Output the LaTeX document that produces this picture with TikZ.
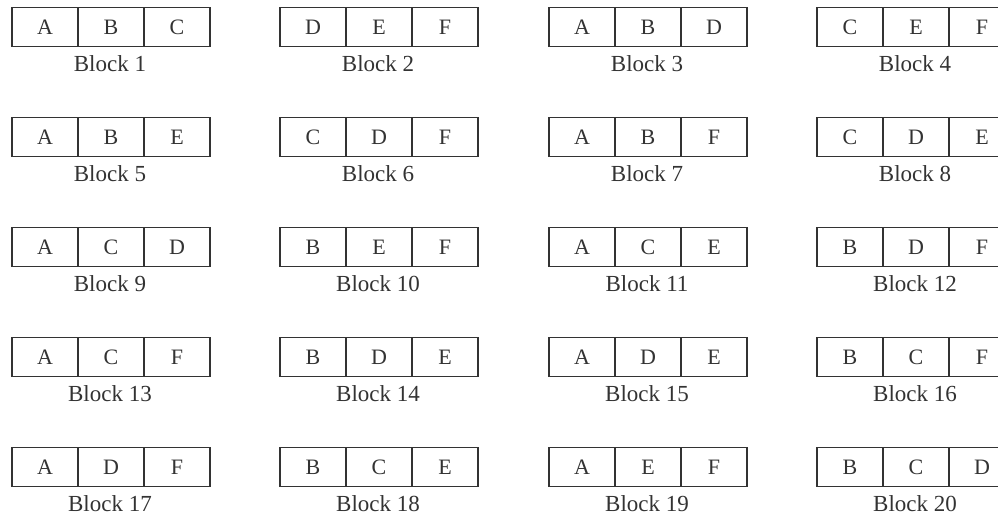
\documentclass[tikz,border=0pt]{standalone}
\usepackage{fontspec}
\setmainfont{Liberation Serif}
\definecolor{ink}{HTML}{333333}
\tikzset{
  cell/.style={draw=ink, line width=1.1pt, minimum width=66pt, minimum height=39pt, inner sep=0pt, text=ink, font=\fontsize{22}{24}\selectfont},
  blocklabel/.style={anchor=base, inner sep=0pt, text depth=0pt, text=ink, font=\fontsize{23}{25}\selectfont}
}
\begin{document}
\begin{tikzpicture}[x=1pt, y=-1pt]
\useasboundingbox (0,0) rectangle (998,515);
\clip (0,0) rectangle (998,515);
\fill[white] (0,0) rectangle (998,515);
\foreach \a/\b/\c [count=\n] in {A/B/C, D/E/F, A/B/D, C/E/F, A/B/E, C/D/F, A/B/F, C/D/E, A/C/D, B/E/F, A/C/E, B/D/F, A/C/F, B/D/E, A/D/E, B/C/F, A/D/F, B/C/E, A/E/F, B/C/D}{
  \pgfmathtruncatemacro{\col}{mod(\n-1,4)}
  \pgfmathtruncatemacro{\row}{int((\n-1)/4)}
  \pgfmathsetmacro{\left}{{12,280,549,817}[\col]}
  \pgfmathsetmacro{\top}{7.5+110*\row}
  \node[cell] (c\n a) at (\left+33,\top+19.5) {\a};
  \node[cell] (c\n b) at (\left+99,\top+19.5) {\b};
  \node[cell] (c\n c) at (\left+165,\top+19.5) {\c};
  \node[blocklabel] (l\n) at (\left+98,\top+64) {Block \n};
}
\end{tikzpicture}
\end{document}
